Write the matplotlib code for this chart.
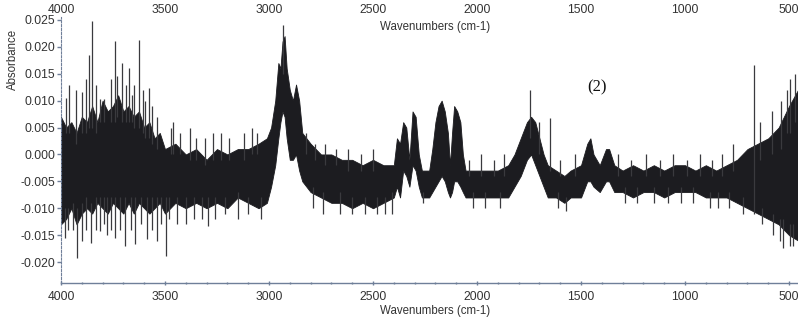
import numpy as np
import matplotlib.pyplot as plt

# core band of the noisy spectrum (wavenumber, upper edge, lower edge)
wn = [4000, 3975, 3950, 3925, 3900, 3875, 3850, 3825, 3800, 3775, 3750, 3725,
      3700, 3675, 3650, 3625, 3600, 3575, 3550, 3525, 3500, 3450, 3400, 3350,
      3300, 3250, 3200, 3150, 3100, 3050, 3010, 2990, 2970, 2955, 2945, 2935,
      2925, 2915, 2900, 2885, 2870, 2855, 2840, 2820, 2800, 2750, 2700, 2650,
      2600, 2550, 2500, 2450, 2400, 2385, 2370, 2355, 2340, 2325, 2310, 2295,
      2280, 2265, 2230, 2215, 2200, 2185, 2170, 2155, 2140, 2130, 2120, 2110,
      2095, 2080, 2068, 2055, 2000, 1950, 1900, 1850, 1820, 1790, 1760, 1740,
      1720, 1700, 1680, 1660, 1620, 1580, 1550, 1500, 1470, 1455, 1440, 1410,
      1380, 1365, 1340, 1300, 1250, 1200, 1150, 1100, 1050, 1000, 950, 900,
      850, 800, 750, 700, 650, 600, 550, 500, 457]
hi = [0.007, 0.005, 0.006, 0.004, 0.007, 0.006, 0.009, 0.006, 0.010, 0.008, 0.009, 0.011,
      0.008, 0.009, 0.007, 0.008, 0.005, 0.006, 0.003, 0.004, 0.001, 0.002, 0.000, 0.001,
      -0.001, 0.001, 0.000, 0.001, 0.001, 0.002, 0.003, 0.005, 0.010, 0.017, 0.016, 0.021,
      0.022, 0.016, 0.012, 0.010, 0.013, 0.010, 0.004, 0.003, 0.002, 0.000, 0.000, -0.001,
      -0.001, -0.002, -0.001, -0.002, -0.002, 0.003, 0.002, 0.006, 0.005, -0.001, 0.008, 0.007,
      0.000, -0.003, -0.003, 0.001, 0.006, 0.009, 0.010, 0.008, 0.004, -0.002, 0.004, 0.009,
      0.008, 0.006, 0.000, -0.003, -0.003, -0.003, -0.003, -0.002, 0.000, 0.003, 0.006, 0.007,
      0.006, 0.003, 0.000, -0.002, -0.003, -0.004, -0.003, -0.002, 0.002, 0.003, 0.000, -0.002,
      0.001, 0.001, -0.002, -0.003, -0.002, -0.003, -0.002, -0.003, -0.002, -0.002, -0.003, -0.002,
      -0.003, -0.002, -0.001, 0.001, 0.002, 0.003, 0.005, 0.009, 0.012]
lo = [-0.013, -0.012, -0.010, -0.013, -0.011, -0.010, -0.011, -0.009, -0.010, -0.011, -0.009, -0.010,
      -0.011, -0.009, -0.011, -0.009, -0.010, -0.011, -0.010, -0.009, -0.011, -0.009, -0.010, -0.009,
      -0.010, -0.009, -0.010, -0.008, -0.009, -0.010, -0.009, -0.006, -0.002, 0.003, 0.006, 0.008,
      0.007, 0.003, -0.001, -0.001, 0.000, -0.003, -0.005, -0.006, -0.007, -0.008, -0.009, -0.009,
      -0.010, -0.009, -0.010, -0.009, -0.008, -0.006, -0.008, -0.003, -0.004, -0.006, -0.002, -0.003,
      -0.006, -0.008, -0.008, -0.007, -0.006, -0.005, -0.004, -0.005, -0.007, -0.008, -0.007, -0.005,
      -0.005, -0.006, -0.007, -0.008, -0.008, -0.008, -0.008, -0.008, -0.006, -0.004, -0.001, 0.000,
      -0.002, -0.004, -0.006, -0.008, -0.008, -0.009, -0.008, -0.008, -0.005, -0.005, -0.006, -0.007,
      -0.005, -0.005, -0.007, -0.007, -0.008, -0.007, -0.007, -0.008, -0.007, -0.007, -0.007, -0.008,
      -0.008, -0.008, -0.009, -0.010, -0.011, -0.012, -0.013, -0.015, -0.016]

# upward noise spikes (wavenumber, base inside band, tip)
up_wn = [3976, 3960, 3930, 3899, 3880, 3864, 3849, 3830, 3812, 3792, 3760, 3740,
         3729, 3705, 3685, 3672, 3660, 3648, 3624, 3604, 3595, 3578, 3560, 3540,
         3470, 3460, 3430, 3380, 3350, 3310, 3270, 3230, 3190, 3120, 3080, 3060,
         2933, 2820, 2780, 2730, 2680, 2620, 2560, 2500, 2040, 1980, 1920, 1870,
         1745, 1700, 1649, 1600, 1530, 1320, 1260, 1190, 1120, 1060, 990, 930,
         870, 820, 770, 668, 640, 580, 540, 510, 495, 470]
up_base = [0.004, 0.004, 0.002, 0.004, 0.004, 0.005, 0.005, 0.004, 0.006, 0.006, 0.006, 0.006,
           0.007, 0.006, 0.006, 0.006, 0.006, 0.005, 0.005, 0.004, 0.003, 0.003, 0.002, 0.001,
           0.000, 0.000, 0.000, -0.001, -0.001, -0.002, -0.001, -0.001, -0.001, -0.001, 0.000, 0.000,
           0.015, 0.000, -0.001, -0.002, -0.002, -0.003, -0.003, -0.003, -0.004, -0.004, -0.004, -0.004,
           0.003, 0.000, -0.003, -0.004, -0.004, -0.004, -0.004, -0.004, -0.004, -0.004, -0.004, -0.004,
           -0.004, -0.004, -0.003, -0.011, -0.001, 0.000, 0.001, 0.004, 0.004, 0.006]
up_tip = [0.0105, 0.013, 0.012, 0.0117, 0.014, 0.0185, 0.0248, 0.013, 0.0103, 0.0103, 0.014, 0.021,
          0.0146, 0.017, 0.013, 0.016, 0.011, 0.0129, 0.0213, 0.012, 0.010, 0.0123, 0.009, 0.007,
          0.005, 0.006, 0.004, 0.005, 0.003, 0.003, 0.004, 0.004, 0.003, 0.004, 0.005, 0.004,
          0.024, 0.004, 0.002, 0.002, 0.001, 0.001, 0.000, 0.001, -0.001, 0.000, -0.001, 0.000,
          0.012, 0.006, 0.0067, -0.001, 0.000, 0.000, -0.001, 0.000, -0.001, 0.000, -0.001, 0.000,
          -0.001, 0.000, 0.002, 0.0167, 0.006, 0.008, 0.010, 0.012, 0.014, 0.015]

# downward noise spikes (wavenumber, base inside band, tip)
dn_wn = [3981, 3965, 3940, 3922, 3900, 3880, 3857, 3830, 3812, 3795, 3780, 3760,
         3740, 3715, 3692, 3665, 3644, 3615, 3588, 3560, 3540, 3520, 3495, 3480,
         3440, 3400, 3360, 3320, 3293, 3260, 3210, 3150, 3100, 3040, 2790, 2740,
         2660, 2600, 2540, 2480, 2440, 2410, 2260, 2020, 1960, 1890, 1610, 1570,
         1290, 1230, 1150, 1080, 1020, 960, 880, 840, 790, 720, 630, 575,
         545, 530, 495, 480]
dn_base = [-0.010, -0.010, -0.009, -0.010, -0.009, -0.008, -0.009, -0.008, -0.008, -0.008, -0.008, -0.008,
           -0.008, -0.008, -0.008, -0.008, -0.008, -0.008, -0.008, -0.008, -0.008, -0.008, -0.008, -0.008,
           -0.008, -0.008, -0.008, -0.008, -0.008, -0.008, -0.008, -0.007, -0.008, -0.008, -0.006, -0.007,
           -0.007, -0.008, -0.008, -0.008, -0.008, -0.007, -0.007, -0.007, -0.007, -0.007, -0.007, -0.008,
           -0.006, -0.006, -0.006, -0.006, -0.006, -0.006, -0.007, -0.007, -0.007, -0.008, -0.010, -0.011,
           -0.012, -0.012, -0.013, -0.013]
dn_tip = [-0.0155, -0.014, -0.014, -0.0192, -0.0161, -0.014, -0.0164, -0.014, -0.0142, -0.013, -0.015, -0.014,
          -0.0155, -0.014, -0.017, -0.014, -0.0167, -0.013, -0.0158, -0.014, -0.016, -0.013, -0.0189, -0.012,
          -0.013, -0.013, -0.012, -0.012, -0.0133, -0.012, -0.011, -0.012, -0.011, -0.012, -0.010, -0.011,
          -0.011, -0.011, -0.011, -0.011, -0.011, -0.011, -0.009, -0.010, -0.010, -0.010, -0.010, -0.0105,
          -0.009, -0.009, -0.009, -0.009, -0.009, -0.009, -0.010, -0.010, -0.010, -0.011, -0.013, -0.015,
          -0.016, -0.0174, -0.017, -0.017]

xticks = [4000, 3500, 3000, 2500, 2000, 1500, 1000, 500]
yticks = [0.025, 0.020, 0.015, 0.010, 0.005, 0.000, -0.005, -0.010, -0.015, -0.020]

plt.rcParams['font.family'] = ['Liberation Sans', 'DejaVu Sans']

fig = plt.figure(figsize=(7.98, 3.25), dpi=100)
ax = fig.add_axes([0.0764, 0.1292, 0.9236, 0.8185])

ax.fill_between(wn, lo, hi, color='#1c1c20', linewidth=0.6, edgecolor='#1c1c20')
ax.vlines(up_wn, up_base, up_tip, color='#3a3a3e', linewidth=0.9)
ax.vlines(dn_wn, dn_base, dn_tip, color='#3a3a3e', linewidth=0.9)

ax.set_xlim(4000, 457)
ax.set_ylim(-0.0239, 0.02555)

axis_col = '#6f7f99'
for s in ['top', 'right']:
    ax.spines[s].set_visible(False)
ax.spines['left'].set_color(axis_col)
ax.spines['left'].set_linestyle((0, (2, 1.5)))
ax.spines['bottom'].set_color(axis_col)
ax.spines['bottom'].set_linewidth(1.0)

ax.set_xticks(xticks)
ax.set_xticks(np.arange(4000, 450, -100), minor=True)
ax.set_yticks(yticks)
ax.set_yticklabels(['%.3f' % v for v in yticks])
ax.tick_params(axis='x', direction='inout', length=3, width=1, color=axis_col,
               labelsize=8.7, labelcolor='#333333', pad=4)
ax.tick_params(axis='x', which='minor', direction='inout', length=2, width=1, color=axis_col)
ax.tick_params(axis='y', direction='out', length=3, width=1, color=axis_col,
               labelsize=8.7, labelcolor='#333333', pad=1)

top = ax.secondary_xaxis('top')
top.set_xticks(xticks)
top.spines['top'].set_visible(False)
top.tick_params(axis='x', length=0, labelsize=8.7, labelcolor='#333333', pad=1)

fig.text(0.545, 0.917, 'Wavenumbers (cm-1)', ha='center', va='center',
         fontsize=8.3, color='#333333')
fig.text(0.545, 0.043, 'Wavenumbers (cm-1)', ha='center', va='center',
         fontsize=8.3, color='#333333')
fig.text(0.016, 0.818, 'Absorbance', rotation=90, ha='center', va='center',
         fontsize=8.3, color='#333333')
fig.text(0.748, 0.73, '(2)', ha='center', va='center', fontsize=12,
         family='Liberation Serif', color='#111111')

fig.savefig('out.png', dpi=100)
